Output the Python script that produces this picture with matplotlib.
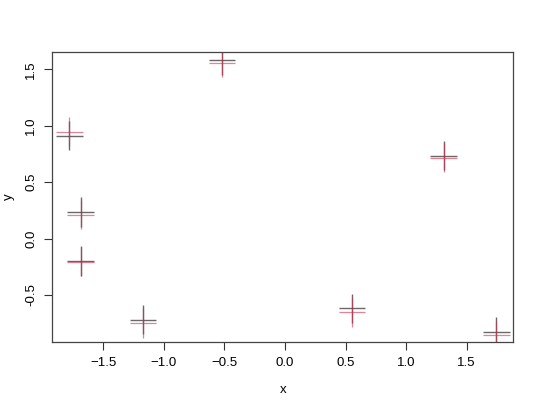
import numpy as np
import matplotlib.pyplot as plt

plt.rcParams['font.family'] = ['Liberation Sans', 'DejaVu Sans']

# point positions (x) and the two y estimates per point
x = [-1.78, -1.685, -1.685, -1.173, -0.52, 1.31, 0.553, 1.745]
y_black = [0.911, 0.235, -0.198, -0.72, 1.582, 0.734, -0.619, -0.826]
y_red = [0.947, 0.212, -0.205, -0.75, 1.559, 0.716, -0.654, -0.858]
x_half = 0.11
y_half = 0.13

fig = plt.figure(figsize=(5.4, 4.07), dpi=100)
ax = fig.add_axes([0.0969, 0.1604, 0.8537, 0.7111])

ax.errorbar(x, y_black, xerr=x_half, yerr=y_half, fmt='none',
            ecolor='#444444', elinewidth=1, capsize=0, alpha=0.8)
ax.errorbar(x, y_red, xerr=x_half, yerr=y_half, fmt='none',
            ecolor='#d03050', elinewidth=0.9, capsize=0, alpha=0.6)

ax.set_xlim(-1.92, 1.885)
ax.set_ylim(-0.915, 1.651)
ax.set_xticks([-1.5, -1.0, -0.5, 0.0, 0.5, 1.0, 1.5])
ax.set_yticks([-0.5, 0.0, 0.5, 1.0, 1.5])
ax.set_yticklabels(['-0.5', '0.0', '0.5', '1.0', '1.5'], rotation=90, va='center')
ax.tick_params(direction='out', length=6, labelsize=9.5, color='#333333', pad=5)
for s in ax.spines.values():
    s.set_color('#444444')
    s.set_linewidth(0.9)

ax.set_xlabel('x', fontsize=9.5, labelpad=11)
ax.set_ylabel('y', fontsize=9.5, labelpad=7)

fig.savefig('out.png')
